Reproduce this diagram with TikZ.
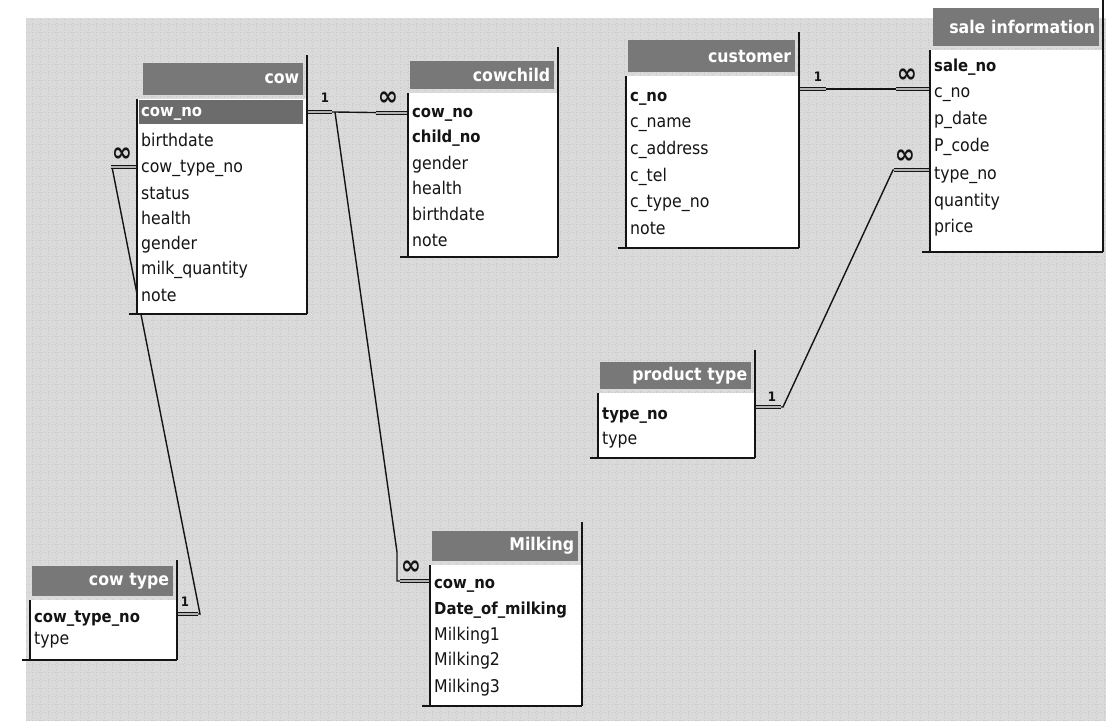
\documentclass[tikz,border=0pt]{standalone}
\usepackage{fontspec}
\setmainfont{DejaVu Sans Condensed}
\usetikzlibrary{calc}
\pgfdeclarelayer{back}
\pgfsetlayers{back,main}
\definecolor{pagebg}{HTML}{DADADA}
\definecolor{griddot}{HTML}{C8C8C8}
\definecolor{hdrgray}{HTML}{787878}
\definecolor{hlgray}{HTML}{6C6C6C}
\definecolor{ink}{HTML}{141414}
\tikzset{
  hdr/.style={fill=hdrgray, draw=none, inner xsep=4pt, inner ysep=0pt, align=right, text=white,
    font=\bfseries\fontsize{17.5}{17.5}\selectfont, anchor=north west},
  bodybox/.style={fill=white, draw=none, inner sep=0pt, anchor=north west},
  fld/.style={anchor=west, inner sep=0pt, text height=12pt, text depth=4pt, text=ink,
    font=\fontsize{17.5}{17.5}\selectfont},
  keyfld/.style={fld, font=\bfseries\fontsize{16.5}{17}\selectfont},
  frameline/.style={line width=2.2pt, ink},
  rel/.style={line width=1.4pt, ink},
  stub/.style={line width=1.3pt, ink, double=gray!60, double distance=1.8pt},
  onelbl/.style={inner sep=0pt, text=ink, font=\bfseries\fontsize{13}{13}\selectfont},
  manylbl/.style={inner sep=0pt, text=ink, font=\bfseries\fontsize{27}{27}\selectfont},
  pagegrid/.style={griddot, line width=0.6pt, dash pattern=on 0.8pt off 2.4pt},
}
% #1 id, #2 body left, #3 header left, #4 right, #5 frame top, #6 header top, #7 header bottom, #8 body bottom, #9 title
\newcommand\ERbox[9]{%
  \pgfmathsetmacro\ERbw{#4-#2}%
  \pgfmathsetmacro\ERbh{#8-#7-4}%
  \pgfmathsetmacro\ERtw{#4-4-#3-8}%
  \pgfmathsetmacro\ERhh{#7-#6}%
  \node[bodybox, minimum width=\ERbw pt, minimum height=\ERbh pt] (#1-b) at (#2,#7+4) {};
  \node[hdr, text width=\ERtw pt, minimum height=\ERhh pt] (#1-h) at (#3,#6) {#9};
  \draw[frameline] (#2,#7+4) -- (#2,#8);
  \draw[frameline] (#4,#5) -- (#4,#8);
  \draw[frameline] (#2-8,#8) -- (#4,#8);
}
\begin{document}
\begin{tikzpicture}[x=1pt,y=-1pt]
\useasboundingbox (0,0) rectangle (1106,721);

% ---------- cow ----------
\ERbox{cow}{137}{143}{307}{55}{63}{95}{314}{cow}
\node[fill=hlgray, anchor=north west, minimum width=164pt, minimum height=24pt, inner sep=0pt] (cow-hl) at (139,100) {};
\node[keyfld, text=white] (cow-r0) at (141,112) {cow\_no};
\node[fld] (cow-r1) at (141,142) {birthdate};
\node[fld] (cow-r2) at (141,168) {cow\_type\_no};
\node[fld] (cow-r3) at (141,195) {status};
\node[fld] (cow-r4) at (141,220) {health};
\node[fld] (cow-r5) at (141,245) {gender};
\node[fld] (cow-r6) at (141,270) {milk\_quantity};
\node[fld] (cow-r7) at (141,297) {note};

% ---------- cowchild ----------
\ERbox{cc}{408}{410}{558}{47}{61}{89}{257}{cowchild}
\node[keyfld] (cc-r0) at (412,113) {cow\_no};
\node[keyfld] (cc-r1) at (412,138) {child\_no};
\node[fld] (cc-r2) at (412,165) {gender};
\node[fld] (cc-r3) at (412,190) {health};
\node[fld] (cc-r4) at (412,216) {birthdate};
\node[fld] (cc-r5) at (412,242) {note};

% ---------- customer ----------
\ERbox{cu}{626}{628}{799}{32}{40}{72}{248}{customer}
\node[keyfld] (cu-r0) at (630,97) {c\_no};
\node[fld] (cu-r1) at (630,123) {c\_name};
\node[fld] (cu-r2) at (630,150) {c\_address};
\node[fld] (cu-r3) at (630,177) {c\_tel};
\node[fld] (cu-r4) at (630,203) {c\_type\_no};
\node[fld] (cu-r5) at (630,230) {note};

% ---------- sale information ----------
\ERbox{si}{930}{933}{1103}{0}{8}{46}{252}{sale information}
\node[keyfld] (si-r0) at (934,67) {sale\_no};
\node[fld] (si-r1) at (934,93) {c\_no};
\node[fld] (si-r2) at (934,120) {p\_date};
\node[fld] (si-r3) at (934,147) {P\_code};
\node[fld] (si-r4) at (934,175) {type\_no};
\node[fld] (si-r5) at (934,202) {quantity};
\node[fld] (si-r6) at (934,228) {price};

% ---------- product type ----------
\ERbox{pt}{598}{600}{755}{350}{362}{389}{458}{product type}
\node[keyfld] (pt-r0) at (602,415) {type\_no};
\node[fld] (pt-r1) at (602,440) {type};

% ---------- cow type ----------
\ERbox{ct}{30}{32}{177}{560}{566}{596}{660}{cow type}
\node[keyfld] (ct-r0) at (34,618) {cow\_type\_no};
\node[fld] (ct-r1) at (34,640) {type};

% ---------- Milking ----------
\ERbox{mk}{430}{432}{582}{522}{531}{561}{706}{Milking}
\node[keyfld] (mk-r0) at (434,584) {cow\_no};
\node[keyfld] (mk-r1) at (434,610) {Date\_of\_milking};
\node[fld] (mk-r2) at (434,636) {Milking1};
\node[fld] (mk-r3) at (434,661) {Milking2};
\node[fld] (mk-r4) at (434,688) {Milking3};

% ---------- relationship labels ----------
\node[onelbl] (l-cow-1) at (325,98) {1};
\node[manylbl] (l-cc-m) at (388,99) {∞};
\node[manylbl] (l-mk-m) at (411,568) {∞};
\node[manylbl] (l-cow-m) at (122,155) {∞};
\node[onelbl] (l-ct-1) at (185,602) {1};
\node[onelbl] (l-cu-1) at (818,77) {1};
\node[manylbl] (l-si-m1) at (907,76) {∞};
\node[manylbl] (l-si-m2) at (905,157) {∞};
\node[onelbl] (l-pt-1) at (772,397) {1};

% ---------- connectors and background ----------
\begin{pgfonlayer}{back}
  \fill[white] (0,0) rectangle (1106,721);
  \fill[pagebg] (26,18) rectangle (1106,721);
  \draw[pagegrid, step=8pt] (26,18) grid (1106,721);
  % cow - cowchild
  \coordinate (j-cow) at (335,112);
  \draw[rel] (cow-b.east |- cow-r0) -- (j-cow) -- (cc-b.west |- cc-r0);
  \draw[stub] (cow-b.east |- cow-r0) -- ++(25,0);
  \draw[stub] (cc-b.west |- cc-r0) -- ++(-32,0);
  % cow - Milking
  \coordinate (j-mk1) at (397,552);
  \coordinate (j-mk2) at (397,581);
  \draw[rel] (j-cow) -- (j-mk1) -- (j-mk2) -- (mk-b.west |- j-mk2);
  \draw[stub] (mk-b.west |- j-mk2) -- ++(-30,0);
  % cow type - cow
  \coordinate (j-cw) at (112,167);
  \coordinate (j-ct) at (200,614);
  \draw[rel] (cow-b.west |- j-cw) -- (j-cw) -- (j-ct) -- (ct-b.east |- j-ct);
  \draw[stub] (cow-b.west |- j-cw) -- ++(-26,0);
  \draw[stub] (ct-b.east |- j-ct) -- ++(21,0);
  % customer - sale information
  \coordinate (j-cu) at (799,89);
  \draw[rel] (cu-b.east |- j-cu) -- (si-b.west |- j-cu);
  \draw[stub] (cu-b.east |- j-cu) -- ++(27,0);
  \draw[stub] (si-b.west |- j-cu) -- ++(-34,0);
  % product type - sale information
  \coordinate (j-pt1) at (783,407);
  \coordinate (j-pt2) at (893,170);
  \draw[rel] (pt-b.east |- j-pt1) -- (j-pt1) -- (j-pt2) -- (si-b.west |- j-pt2);
  \draw[stub] (pt-b.east |- j-pt1) -- ++(26,0);
  \draw[stub] (si-b.west |- j-pt2) -- ++(-36,0);
\end{pgfonlayer}
\end{tikzpicture}
\end{document}
